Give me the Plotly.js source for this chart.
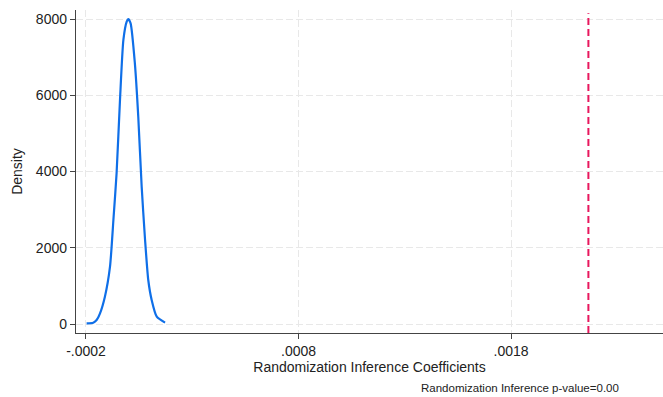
<!DOCTYPE html>
<html>
<head>
<meta charset="utf-8">
<script src="https://cdn.plot.ly/plotly-3.0.1.min.js"></script>
<style>html,body{margin:0;padding:0;background:#fff;}#chart{width:663px;height:397px;}</style>
</head>
<body>
<div id="chart"></div>
<script>
// Kernel density of randomization inference coefficients
const coefX = [-0.000197, -0.000166, -0.000150, -0.000134, -0.000111, -0.000087, -0.000071, -0.000056, -0.000040, -0.000024, -0.0000085, -0.000001, 0.000010, 0.000030, 0.000046, 0.000062, 0.000078, 0.000093, 0.000109, 0.000133, 0.000172];
const densityY = [18, 35, 105, 280, 716, 1503, 2728, 3953, 5875, 7450, 7930, 8000, 7887, 6838, 5437, 3602, 2203, 1154, 630, 192, 35];
const actualCoef = [0.002164];
const xTickVals = [-0.0002, 0.0008, 0.0018];
const xTickText = ["-.0002", ".0008", ".0018"];
const yTickVals = [0, 2000, 4000, 6000, 8000];
const yTickText = ["0", "2000", "4000", "6000", "8000"];
const noteText = "Randomization Inference p-value=0.00";

const font = "Liberation Sans, Arial, sans-serif";

const traces = [{
  x: coefX, y: densityY, type: "scatter", mode: "lines",
  line: {color: "#0F6FE8", width: 2.2, shape: "spline", smoothing: 0.6},
  hoverinfo: "skip", showlegend: false
}];

const layout = {
  width: 663, height: 397,
  margin: {l: 76, r: 0, t: 10, b: 64},
  paper_bgcolor: "#ffffff", plot_bgcolor: "#ffffff",
  font: {family: font, size: 14, color: "#222"},
  showlegend: false,
  xaxis: {
    range: [-0.000247, 0.002515],
    tickvals: xTickVals, ticktext: xTickText,
    showline: true, linecolor: "#444", linewidth: 1.2,
    ticks: "outside", ticklen: 5, tickcolor: "#444", tickwidth: 1,
    showgrid: true, gridcolor: "#e8e8e8", griddash: "7px,3px", gridwidth: 1,
    zeroline: false,
    tickfont: {family: font, size: 14, color: "#222"},
    title: {text: "Randomization Inference Coefficients", font: {family: font, size: 14, color: "#222"}, standoff: 4},
    automargin: false, fixedrange: true
  },
  yaxis: {
    range: [-236, 8236],
    tickvals: yTickVals, ticktext: yTickText,
    showline: true, linecolor: "#444", linewidth: 1.2,
    ticks: "outside", ticklen: 5, tickcolor: "#444", tickwidth: 1,
    showgrid: true, gridcolor: "#e8e8e8", griddash: "7px,3px", gridwidth: 1,
    zeroline: false,
    tickfont: {family: font, size: 14, color: "#222"},
    title: {text: "Density", font: {family: font, size: 14, color: "#222"}, standoff: 10},
    automargin: false, fixedrange: true
  },
  shapes: actualCoef.map(v => ({
    type: "line", xref: "x", yref: "paper", x0: v, x1: v, y0: 0, y1: 0.99,
    line: {color: "#E8175D", width: 2, dash: "7px,4px"}
  })),
  annotations: [{
    text: noteText, xref: "paper", yref: "paper", x: 0.928, y: -0.17,
    xanchor: "right", yanchor: "middle", showarrow: false,
    font: {family: font, size: 11.5, color: "#222"}
  }]
};

Plotly.newPlot("chart", traces, layout, {displayModeBar: false, staticPlot: true});
</script>
</body>
</html>
